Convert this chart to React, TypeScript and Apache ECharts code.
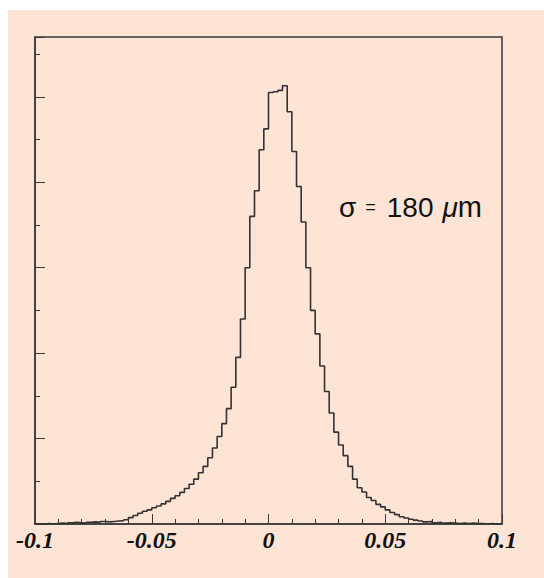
import React, { useEffect, useRef } from "react";
import * as echarts from "echarts";

// Histogram: 100 bins of width 0.002 from -0.1 to 0.1 (heights in arbitrary units)
const binStart = -0.1;
const binWidth = 0.002;
const counts = [
  0, 0, 0.01, 0, 0.01, 0.02, 0.01, 0.03, 0.04, 0.03,
  0.02, 0.04, 0.05, 0.04, 0.06, 0.05, 0.06, 0.07, 0.08, 0.1,
  0.15, 0.2, 0.25, 0.3, 0.33, 0.38, 0.42, 0.47, 0.53, 0.6,
  0.66, 0.74, 0.83, 0.93, 1.05, 1.2, 1.35, 1.55, 1.78, 2.05,
  2.35, 2.7, 3.2, 3.9, 4.8, 6.0, 7.2, 7.8, 8.76, 9.25,
  10.1, 10.12, 10.15, 10.26, 9.65, 8.72, 7.9, 7.07, 6.0, 5.0,
  4.45, 3.7, 3.1, 2.6, 2.15, 1.85, 1.6, 1.35, 1.05, 0.85,
  0.75, 0.62, 0.55, 0.46, 0.4, 0.33, 0.27, 0.22, 0.17, 0.14,
  0.11, 0.09, 0.07, 0.05, 0.06, 0.03, 0.04, 0.02, 0.03, 0.02,
  0.01, 0.02, 0.01, 0.02, 0.01, 0.01, 0, 0.01, 0, 0,
];
const xTickLabels = ["-0.1", "-0.05", "0", "0.05", "0.1"];
const sigmaValue = "180";

export default function App() {
  const ref = useRef<HTMLDivElement>(null);
  useEffect(() => {
    if (!ref.current) return;
    const chart = echarts.init(ref.current, null, { renderer: "svg" });
    const data: number[][] = counts.map((c, i) => [binStart + i * binWidth, c]);
    data.push([binStart + counts.length * binWidth, counts[counts.length - 1]]);
    const axisColor = "#3a3a3a";
    chart.setOption({
      animation: false,
      backgroundColor: "#fde4d4",
      grid: {
        left: 27,
        top: 27,
        width: 467,
        height: 487,
        show: true,
        borderColor: axisColor,
        borderWidth: 1.5,
        backgroundColor: "transparent",
      },
      xAxis: [
        {
          type: "value",
          min: -0.1,
          max: 0.1,
          interval: 0.01,
          axisLine: { show: true, onZero: false, lineStyle: { color: axisColor, width: 1.5 } },
          axisTick: { inside: true, length: 5, lineStyle: { color: axisColor } },
          axisLabel: { show: false },
          splitLine: { show: false },
        },
        {
          type: "value",
          position: "bottom",
          min: -0.1,
          max: 0.1,
          interval: 0.05,
          axisLine: { show: false, onZero: false },
          axisTick: { inside: true, length: 10, lineStyle: { color: axisColor } },
          axisLabel: {
            margin: 4,
            fontFamily: "Liberation Serif",
            fontStyle: "italic",
            fontWeight: "bold",
            fontSize: 24,
            color: "#111",
            formatter: (v: number) => xTickLabels[Math.round((v + 0.1) / 0.05)] ?? "",
          },
          splitLine: { show: false },
        },
      ],
      yAxis: [
        {
          type: "value",
          min: 0,
          max: 11.4,
          interval: 1,
          axisLine: { show: true, onZero: false, lineStyle: { color: axisColor, width: 1.5 } },
          axisTick: { inside: true, length: 5, lineStyle: { color: axisColor } },
          axisLabel: { show: false },
          splitLine: { show: false },
        },
        {
          type: "value",
          position: "left",
          min: 0,
          max: 11.4,
          interval: 2,
          axisLine: { show: false, onZero: false },
          axisTick: { inside: true, length: 10, lineStyle: { color: axisColor } },
          axisLabel: { show: false },
          splitLine: { show: false },
        },
      ],
      series: [
        {
          type: "line",
          xAxisIndex: 0,
          yAxisIndex: 0,
          data,
          step: "end",
          symbol: "none",
          silent: true,
          lineStyle: { color: "#333", width: 1.6 },
        },
      ],
      graphic: [
        {
          type: "text",
          x: 331,
          y: 197,
          style: {
            text: `{s|σ}{e|=}{a|${sigmaValue}}{u|μ}{m|m}`,
            verticalAlign: "middle",
            rich: {
              s: { fontFamily: "Liberation Sans", fontSize: 28, fill: "#111", padding: [0, 9, 0, 0] },
              e: { fontFamily: "Liberation Sans", fontSize: 18, fill: "#111", padding: [0, 11, 0, 0] },
              a: { fontFamily: "Liberation Sans", fontSize: 28, fill: "#111", padding: [0, 9, 0, 0] },
              u: { fontFamily: "Liberation Sans", fontStyle: "italic", fontSize: 28, fill: "#111" },
              m: { fontFamily: "Liberation Sans", fontSize: 29, fill: "#111" },
            },
          },
        },
      ],
    });
    return () => chart.dispose();
  }, []);
  return (
    <div style={{ position: "fixed", left: 0, top: 0, width: 544, height: 578, background: "#fff" }}>
      <div ref={ref} style={{ position: "absolute", left: 8, top: 10, width: 536, height: 568 }} />
    </div>
  );
}
